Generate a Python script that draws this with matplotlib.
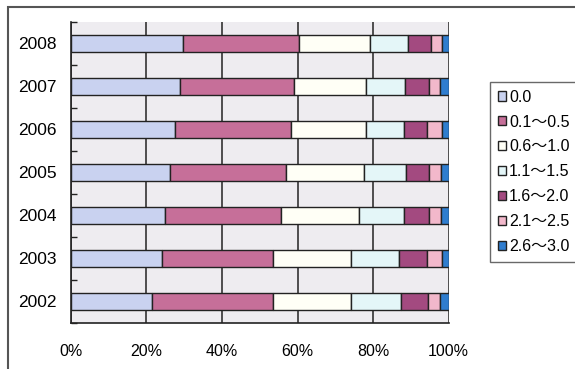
import matplotlib.pyplot as plt
import matplotlib.patches as patches
import numpy as np

plt.rcParams['font.family'] = ['Liberation Sans', 'Noto Sans CJK JP', 'DejaVu Sans']

years = ['2002', '2003', '2004', '2005', '2006', '2007', '2008']
labels = ['0.0', '0.1〜0.5', '0.6〜1.0', '1.1〜1.5', '1.6〜2.0', '2.1〜2.5', '2.6〜3.0']

# share (%) of each class per year, 2002 -> 2008
s00 = [21.5, 24.2, 24.9, 26.3, 27.7, 28.9, 29.8]
s01 = [31.9, 29.4, 30.7, 30.7, 30.5, 30.3, 30.7]
s06 = [20.8, 20.6, 20.6, 20.7, 19.9, 18.9, 18.7]
s11 = [13.2, 12.7, 12.1, 10.9, 10.2, 10.4, 10.0]
s16 = [7.0, 7.3, 6.5, 6.2, 6.0, 6.2, 6.1]
s21 = [3.3, 4.1, 3.1, 3.1, 4.0, 3.1, 2.9]
s26 = [2.3, 1.7, 2.1, 2.1, 1.7, 2.2, 1.8]
series = [s00, s01, s06, s11, s16, s21, s26]

colors = ['#c9d2f0', '#c66f99', '#fffff6', '#e4f6f8', '#a34a80', '#f2b8cb', '#2f7dcf']

fig = plt.figure(figsize=(5.75, 3.69), dpi=100)
ax = fig.add_axes([70.7 / 575, 1 - 322.7 / 369, 378 / 575, 301 / 369])
ax.set_facecolor('#eeecf0')

y = np.arange(len(years))
left = np.zeros(len(years))
for vals, col, lab in zip(series, colors, labels):
    ax.barh(y, vals, left=left, height=0.4, color=col, edgecolor='#222222',
            linewidth=1.0, label=lab, zorder=3)
    left += np.array(vals)

ax.set_xlim(0, 100)
ax.set_ylim(-0.5, len(years) - 0.5)
ax.set_xticks([0, 20, 40, 60, 80, 100])
ax.set_xticklabels(['0%', '20%', '40%', '60%', '80%', '100%'], fontsize=11.5)
ax.set_yticks(y)
ax.set_yticklabels(years, fontsize=12.5)
ax.set_yticks(np.arange(-0.5, len(years) + 0.5, 1), minor=True)
ax.tick_params(axis='y', which='major', length=0, pad=10)
ax.tick_params(axis='y', which='minor', direction='in', length=4, width=1, color='#222222')
ax.tick_params(axis='x', length=0, pad=15)
ax.grid(axis='x', color='#333333', linewidth=1.2, zorder=1)

for side in ['top', 'right']:
    ax.spines[side].set_visible(False)
for side in ['left', 'bottom']:
    ax.spines[side].set_color('#222222')
    ax.spines[side].set_linewidth(1.2)

leg = fig.legend(loc='upper left', bbox_to_anchor=(490 / 575, 1 - 81.7 / 369),
                 borderaxespad=0, fontsize=11.5, frameon=True, fancybox=False,
                 handlelength=0.5, handleheight=0.5, handletextpad=0.2,
                 labelspacing=0.62, borderpad=0.5)
leg.get_frame().set_edgecolor('#444444')
leg.get_frame().set_linewidth(1.0)
for h in leg.legend_handles:
    h.set_edgecolor('#222222')

# outer chart frame (only top and left edges fall inside the image)
fig.patches.append(patches.Rectangle((8 / 575, -0.1), 1.2, 1 - 7 / 369 + 0.1,
                                     transform=fig.transFigure, fill=False,
                                     edgecolor='#555555', linewidth=1.5))

plt.savefig('out.png', dpi=100)
